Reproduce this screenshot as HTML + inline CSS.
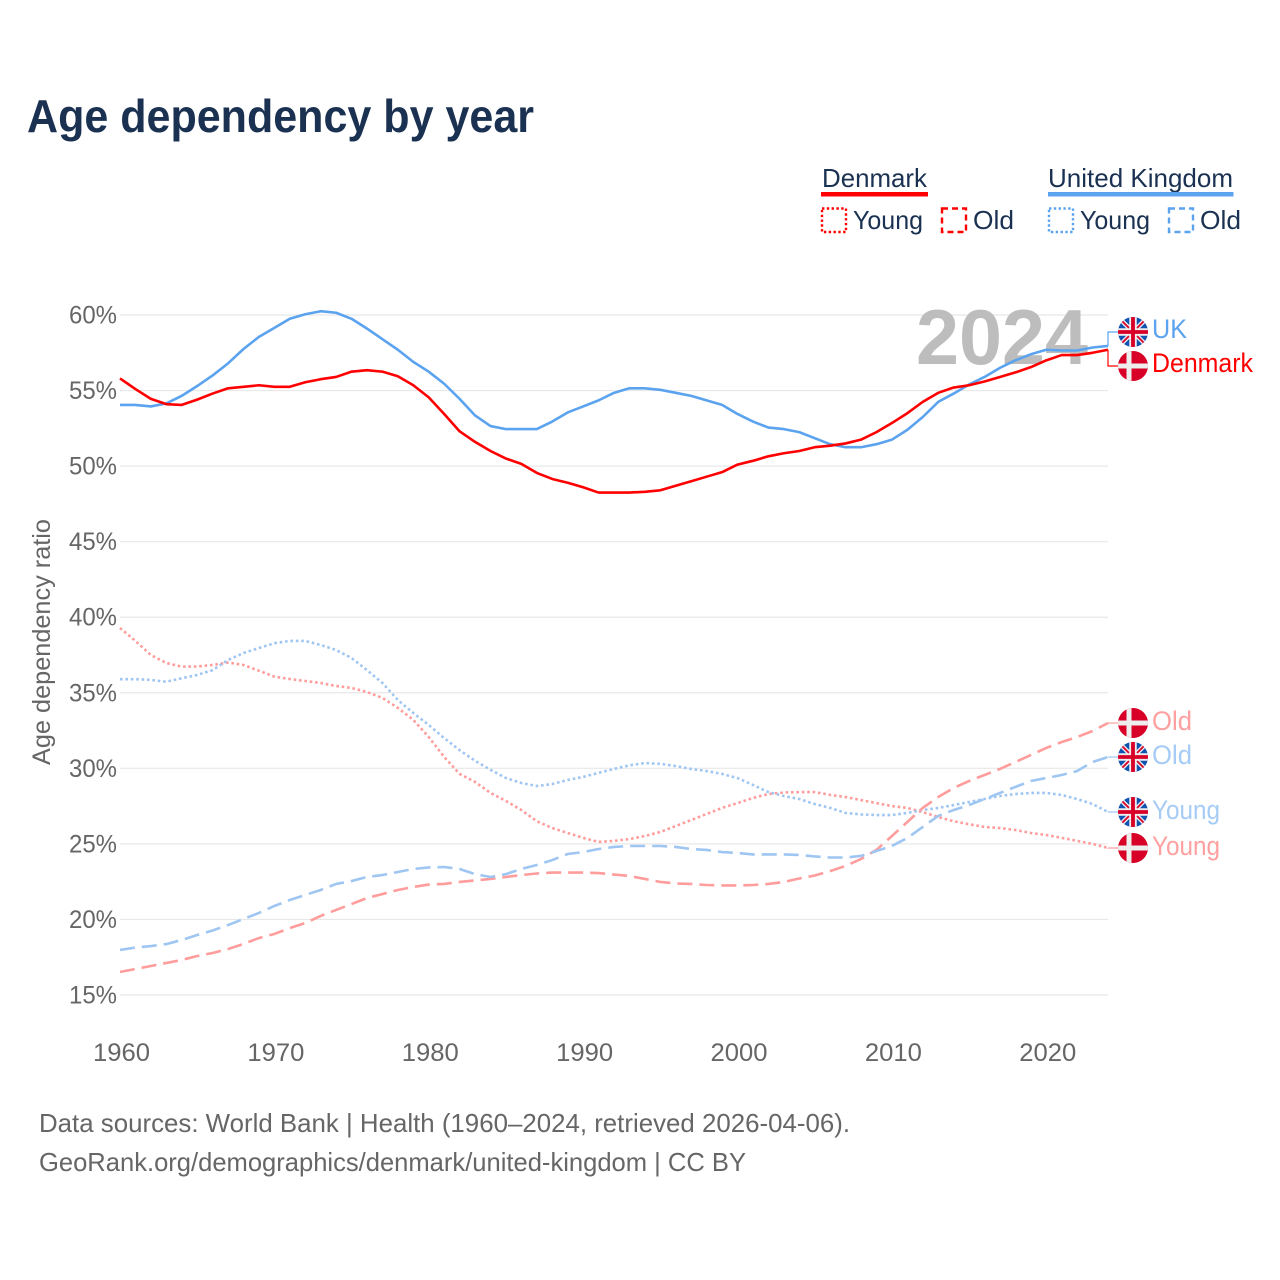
<!DOCTYPE html>
<html lang="en">
<head>
<meta charset="utf-8">
<title>Age dependency by year</title>
<style>
html,body{margin:0;padding:0;background:#fff;width:1280px;height:1280px;overflow:hidden}
svg{display:block}
text{font-family:"Liberation Sans",sans-serif}
</style>
</head>
<body>
<svg id="chart" xmlns="http://www.w3.org/2000/svg" width="1280" height="1280" viewBox="0 0 1280 1280">
<defs>
<clipPath id="flag-clip-uk"><circle cx="0" cy="0" r="15"/></clipPath>
<g id="flag-uk" clip-path="url(#flag-clip-uk)">
<rect x="-15" y="-15" width="30" height="30" fill="#0f52b0"/>
<path d="M-15-15L15 15M15-15L-15 15" stroke="#eee" stroke-width="4.500"/>
<path d="M-15-15L15 15M15-15L-15 15" stroke="#d80027" stroke-width="1.800"/>
<path d="M0-15V15M-15 0H15" stroke="#eee" stroke-width="7.500"/>
<path d="M0-15V15M-15 0H15" stroke="#d80027" stroke-width="3.800"/>
</g>
<clipPath id="flag-clip-dk"><circle cx="0" cy="0" r="15"/></clipPath>
<g id="flag-dk" clip-path="url(#flag-clip-dk)">
<rect x="-15" y="-15" width="30" height="30" fill="#d80027"/>
<path d="M-4-15V15M-15 0H15" stroke="#eee" stroke-width="5"/>
</g>
</defs>
<text x="27" y="132" font-size="46" font-weight="700" fill="#1a3152" textLength="507" lengthAdjust="spacingAndGlyphs">Age dependency by year</text>
<g fill="#1a3152" font-size="26">
<text x="822" y="187" textLength="105" lengthAdjust="spacingAndGlyphs">Denmark</text>
<rect x="821" y="192" width="107" height="4.500" fill="#ff0000"/>
<rect x="822" y="208.500" width="24" height="23.500" fill="none" stroke="#ff0000" stroke-width="2.400" stroke-dasharray="2.400 2.400"/>
<text x="853" y="229" textLength="70" lengthAdjust="spacingAndGlyphs">Young</text>
<rect x="942" y="208.500" width="24" height="23.500" fill="none" stroke="#ff0000" stroke-width="2.400" stroke-dasharray="6 4"/>
<text x="973" y="229" textLength="41" lengthAdjust="spacingAndGlyphs">Old</text>
<text x="1048" y="187" textLength="185" lengthAdjust="spacingAndGlyphs">United Kingdom</text>
<rect x="1048" y="192" width="185.500" height="4.500" fill="#5ba3ef"/>
<rect x="1049" y="208.500" width="24" height="23.500" fill="none" stroke="#5ba3ef" stroke-width="2.400" stroke-dasharray="2.400 2.400"/>
<text x="1080" y="229" textLength="70" lengthAdjust="spacingAndGlyphs">Young</text>
<rect x="1169" y="208.500" width="24" height="23.500" fill="none" stroke="#5ba3ef" stroke-width="2.400" stroke-dasharray="6 4"/>
<text x="1200" y="229" textLength="41" lengthAdjust="spacingAndGlyphs">Old</text>
</g>
<g id="grid"></g>
<text x="916" y="364" font-size="78" font-weight="700" fill="#bdbdbd" textLength="172" lengthAdjust="spacingAndGlyphs">2024</text>
<g id="y-axis"></g>
<g id="x-axis"></g>
<text transform="translate(50 765) rotate(-90)" font-size="25" fill="#666666" textLength="246" lengthAdjust="spacingAndGlyphs">Age dependency ratio</text>
<g id="series"></g>
<g id="end-labels">
<use href="#flag-uk" x="1133" y="332"/>
<use href="#flag-dk" x="1133" y="366"/>
<use href="#flag-dk" x="1133" y="723"/>
<use href="#flag-uk" x="1133" y="757"/>
<use href="#flag-uk" x="1133" y="812"/>
<use href="#flag-dk" x="1133" y="848"/>
<g font-size="27">
<text x="1152" y="338" fill="#5ba3ef" textLength="35" lengthAdjust="spacingAndGlyphs">UK</text>
<text x="1152" y="372" fill="#ff0000" textLength="101" lengthAdjust="spacingAndGlyphs">Denmark</text>
<text x="1152" y="730" fill="#ffa0a0" textLength="40" lengthAdjust="spacingAndGlyphs">Old</text>
<text x="1152" y="764" fill="#a6ccf5" textLength="40" lengthAdjust="spacingAndGlyphs">Old</text>
<text x="1152" y="819" fill="#a6ccf5" textLength="68" lengthAdjust="spacingAndGlyphs">Young</text>
<text x="1152" y="855" fill="#ffa0a0" textLength="68" lengthAdjust="spacingAndGlyphs">Young</text>
</g>
</g>
<g font-size="26" fill="#666666">
<text x="39" y="1132" textLength="811" lengthAdjust="spacingAndGlyphs">Data sources: World Bank | Health (1960–2024, retrieved 2026-04-06).</text>
<text x="39" y="1171" textLength="707" lengthAdjust="spacingAndGlyphs">GeoRank.org/demographics/denmark/united-kingdom | CC BY</text>
</g>
</svg>
<script>
const yTicks = [15, 20, 25, 30, 35, 40, 45, 50, 55, 60];
const xTicks = [1960, 1970, 1980, 1990, 2000, 2010, 2020];
const firstYear = 1960;
const lastYear = 2024;
const denmarkTotal = [55.8,55.1,54.45,54.1,54.05,54.4,54.8,55.15,55.25,55.35,55.25,55.25,55.55,55.75,55.9,56.25,56.35,56.25,55.95,55.35,54.55,53.45,52.3,51.6,51,50.5,50.15,49.55,49.15,48.9,48.6,48.25,48.25,48.25,48.3,48.4,48.7,49,49.3,49.6,50.1,50.35,50.65,50.85,51,51.25,51.35,51.5,51.75,52.25,52.85,53.5,54.25,54.85,55.2,55.35,55.6,55.9,56.2,56.55,57,57.35,57.35,57.5,57.7];
const ukTotal = [54.05,54.05,53.95,54.15,54.65,55.3,56,56.8,57.75,58.55,59.15,59.75,60.05,60.25,60.15,59.75,59.1,58.4,57.7,56.9,56.25,55.45,54.45,53.35,52.65,52.45,52.45,52.45,52.95,53.55,53.95,54.35,54.85,55.15,55.15,55.05,54.85,54.65,54.35,54.05,53.45,52.95,52.55,52.45,52.25,51.85,51.45,51.25,51.25,51.45,51.75,52.4,53.25,54.25,54.8,55.4,55.9,56.5,57,57.4,57.7,57.65,57.65,57.85,57.95];
const denmarkYoung = [39.29,38.43,37.5,36.97,36.73,36.74,36.84,37,36.84,36.46,36.07,35.91,35.78,35.65,35.45,35.32,35.05,34.66,34,33.2,32.07,30.75,29.63,29.1,28.37,27.84,27.24,26.5,26.05,25.72,25.4,25.13,25.2,25.32,25.52,25.79,26.18,26.58,26.98,27.38,27.7,28.04,28.3,28.4,28.43,28.43,28.24,28.1,27.9,27.7,27.5,27.38,27.1,26.78,26.5,26.3,26.12,26.05,25.92,25.72,25.59,25.4,25.2,25,24.73];
const ukYoung = [35.9,35.9,35.85,35.73,35.96,36.18,36.5,37.17,37.63,37.96,38.28,38.43,38.43,38.16,37.83,37.3,36.5,35.65,34.52,33.66,32.87,32,31.2,30.5,29.9,29.36,29.03,28.83,28.96,29.23,29.43,29.7,29.96,30.2,30.35,30.3,30.15,29.96,29.82,29.63,29.36,28.9,28.43,28.17,27.97,27.64,27.38,27.05,26.95,26.91,26.91,27.05,27.24,27.38,27.57,27.77,27.97,28.17,28.3,28.37,28.37,28.24,27.97,27.64,27.11];
const denmarkOld = [16.52,16.72,16.92,17.12,17.32,17.58,17.78,18.04,18.38,18.77,19.04,19.43,19.76,20.23,20.63,21.02,21.42,21.68,21.95,22.15,22.31,22.35,22.48,22.58,22.68,22.81,22.94,23.04,23.1,23.1,23.1,23.07,22.97,22.88,22.68,22.48,22.38,22.35,22.28,22.25,22.25,22.28,22.35,22.48,22.71,22.91,23.2,23.54,24,24.6,25.52,26.45,27.38,28.1,28.7,29.16,29.56,29.96,30.42,30.88,31.35,31.74,32.07,32.47,33];
const ukOld = [17.98,18.14,18.24,18.37,18.64,18.97,19.27,19.63,20.03,20.43,20.89,21.29,21.62,21.95,22.35,22.54,22.81,22.94,23.14,23.34,23.44,23.47,23.34,23,22.81,23,23.34,23.6,23.93,24.33,24.46,24.66,24.8,24.86,24.86,24.86,24.8,24.66,24.6,24.46,24.4,24.3,24.3,24.3,24.27,24.17,24.1,24.1,24.2,24.53,24.86,25.39,26.12,26.85,27.24,27.57,27.97,28.37,28.77,29.16,29.36,29.56,29.82,30.42,30.75];

const SVG_NS = 'http://www.w3.org/2000/svg';
function xScale(year) { return 120 + (year - firstYear) * (1108 - 120) / (lastYear - firstYear); }
function yScale(v) { return 995 - (v - 15) * (995 - 315) / 45; }

const gridGroup = document.getElementById('grid');
const yAxisGroup = document.getElementById('y-axis');
const xAxisGroup = document.getElementById('x-axis');
const seriesGroup = document.getElementById('series');

yTicks.forEach(function (t) {
  const line = document.createElementNS(SVG_NS, 'line');
  
  
  line.setAttribute('x1', 120);
  line.setAttribute('x2', 1108);
  line.setAttribute('y1', yScale(t));
  line.setAttribute('y2', yScale(t));
  line.setAttribute('stroke', '#e8e8e8');
  line.setAttribute('stroke-width', '1.2');
  gridGroup.appendChild(line);

  const label = document.createElementNS(SVG_NS, 'text');
  
  
  label.setAttribute('x', 117);
  label.setAttribute('y', yScale(t) + 8.5);
  label.setAttribute('text-anchor', 'end');
  label.setAttribute('font-size', '25');
  label.setAttribute('fill', '#666666');
  label.setAttribute('textLength', '48');
  label.setAttribute('lengthAdjust', 'spacingAndGlyphs');
  label.textContent = t + '%';
  yAxisGroup.appendChild(label);
});

xTicks.forEach(function (t) {
  const label = document.createElementNS(SVG_NS, 'text');
  
  
  label.setAttribute('x', xScale(t) + 1.5);
  label.setAttribute('y', 1061);
  label.setAttribute('text-anchor', 'middle');
  label.setAttribute('font-size', '25');
  label.setAttribute('fill', '#666666');
  label.setAttribute('textLength', '57');
  label.setAttribute('lengthAdjust', 'spacingAndGlyphs');
  label.textContent = t;
  xAxisGroup.appendChild(label);
});

function drawSeries(values, name, color, dash, connector) {
  const pts = values.map(function (v, i) { return xScale(firstYear + i) + ',' + yScale(v); });
  const line = document.createElementNS(SVG_NS, 'polyline');
  
  
  line.setAttribute('points', pts.join(' '));
  line.setAttribute('fill', 'none');
  line.setAttribute('stroke', color);
  line.setAttribute('stroke-width', '2.6');
  line.setAttribute('stroke-linejoin', 'round');
  if (dash) line.setAttribute('stroke-dasharray', dash);
  seriesGroup.appendChild(line);

  const lastY = yScale(values[values.length - 1]);
  const link = document.createElementNS(SVG_NS, 'polyline');
  
  
  link.setAttribute('points', '1108,' + lastY + ' 1108,' + connector + ' 1120,' + connector);
  link.setAttribute('fill', 'none');
  link.setAttribute('stroke', color);
  link.setAttribute('stroke-width', '1.2');
  seriesGroup.appendChild(link);
}

drawSeries(denmarkYoung, 'line-denmark-young', '#ff9c9c', '2.6 2.8', 848);
drawSeries(ukYoung, 'line-uk-young', '#9fc6f2', '2.6 2.8', 812);
drawSeries(denmarkOld, 'line-denmark-old', '#ff9c9c', '15 7', 723);
drawSeries(ukOld, 'line-uk-old', '#9fc6f2', '15 7', 757);
drawSeries(ukTotal, 'line-uk-total', '#5ba3ef', '', 332);
drawSeries(denmarkTotal, 'line-denmark-total', '#ff0000', '', 366);
</script>
</body>
</html>
